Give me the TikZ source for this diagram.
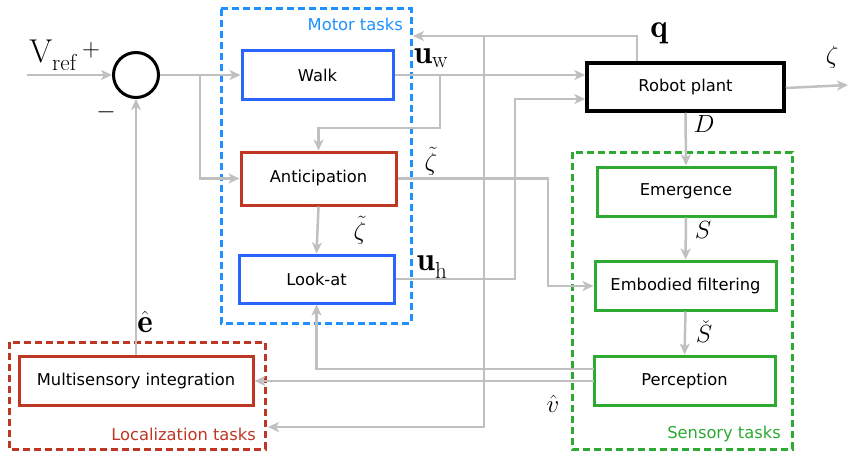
\documentclass[tikz,border=0pt]{standalone}
\usepackage{fontspec}
\usepackage{amsmath}
\usetikzlibrary{arrows.meta,calc}
\newfontfamily\dejavu{DejaVu Sans}
\definecolor{lgray}{RGB}{192,192,192}
\definecolor{bbox}{RGB}{41,100,255}
\definecolor{rbox}{RGB}{190,55,35}
\definecolor{gbox}{RGB}{44,170,50}
\definecolor{mblue}{RGB}{30,144,255}
\tikzset{
  blk/.style={draw, line width=3pt, rectangle, inner sep=0pt, font=\dejavu\fontsize{16.3}{19}\selectfont},
  grp/.style={line width=3pt, dash pattern=on 7pt off 4pt},
  grplab/.style={font=\dejavu\fontsize{16.3}{19}\selectfont, inner sep=0pt},
  arr/.style={draw=lgray, line width=2.5pt, -{Stealth[length=11pt,width=10pt,inset=3pt]}},
  mlab/.style={inner sep=0pt, font=\fontsize{33}{38}\selectfont},
}
\begin{document}
\begin{tikzpicture}[x=1pt,y=-1pt]
\useasboundingbox (0,0) rectangle (848,452);
% group boxes
\draw[grp, mblue] (221,9) rectangle (411,323);
\draw[grp, gbox] (572,152) rectangle (792,449);
\draw[grp, rbox] (9,342) rectangle (265,449);
\node[grplab, text=mblue, anchor=east] (lmotor) at (403,24) {Motor tasks};
\node[grplab, text=rbox, anchor=east] (lloc) at (256,434) {Localization tasks};
\node[grplab, text=gbox, anchor=east] (lsens) at (781,434) {Sensory tasks};
% blocks
\node[draw, circle, line width=3pt, minimum size=45pt, inner sep=0pt] (circ) at (136,75) {};
\node[blk, bbox, text=black, minimum width=151pt, minimum height=49pt] (walk) at (317.5,75) {Walk};
\node[blk, rbox, text=black, minimum width=155pt, minimum height=53pt] (ant) at (318.5,178.5) {Anticipation};
\node[blk, bbox, text=black, minimum width=155pt, minimum height=48pt] (look) at (316.5,279) {Look-at};
\node[blk, black, line width=3.5pt, minimum width=197pt, minimum height=48pt] (robot) at (685.5,87) {Robot plant};
\node[blk, gbox, text=black, minimum width=178pt, minimum height=49pt] (emer) at (686,191.5) {Emergence};
\node[blk, gbox, text=black, minimum width=181pt, minimum height=49pt] (emb) at (685.5,285.5) {Embodied filtering};
\node[blk, gbox, text=black, minimum width=181pt, minimum height=49pt] (perc) at (684.5,380.5) {Perception};
\node[blk, rbox, text=black, minimum width=234pt, minimum height=49pt] (multi) at (136,380.5) {Multisensory integration};
% coordinates
\coordinate (vin) at (27,75);
\coordinate (br1) at (200,75);
\coordinate (br2) at (440,75);
\coordinate (qtop) at (637,36);
\coordinate (qend) at (413,36);
\coordinate (vtop) at (484,36);
\coordinate (vbot) at (484,427);
\coordinate (vend) at (268,427);
\coordinate (uh) at (515,99);
\coordinate (zt) at (548,286);
\coordinate (p1) at (594,369);
\coordinate (p2) at (594,381);
\coordinate (zout) at (848,85);
% connectors
\draw[arr] (vin) -- (circ.west);
\draw[arr] (circ.east) -- (walk.west);
\draw[arr] (br1) |- (ant.west);
\draw[arr] (walk.east) -- (walk.east -| robot.west);
\draw[arr] (br2) -- (440,128) -| (ant.north);
\draw[arr] (robot.north -| qtop) |- (qend);
\draw[arr] (vtop) -- (vbot) -- (vend);
\draw[arr] (look.east) -| (uh) -- (uh -| robot.west);
\draw[arr] (ant.east) -| (zt) -- (zt -| emb.west);
\draw[arr] (ant.south) -- (look.north);
\draw[arr] (robot.east |- 0,88) -- (zout);
\draw[arr] (robot.south) -- (emer.north);
\draw[arr] (emer.south) -- (emb.north);
\draw[arr] (emb.south) -- (perc.north);
\draw[arr] (p1) -| (look.south);
\draw[arr] (p2) -- (p2 -| multi.east);
\draw[arr] (multi.north) -- (circ.south);
% labels
\node[mlab] (lvref) at (53,55) {$\mathrm{V}_{\mathrm{ref}}$};
\node[mlab] (lplus) at (91,50) {$+$};
\node[mlab] (lminus) at (106,112) {$-$};
\node[mlab] (luw) at (431,58) {$\mathbf{u}_{\mathrm{w}}$};
\node[mlab] (lq) at (659,33) {$\mathbf{q}$};
\node[mlab] (lzeta) at (832,57) {$\zeta$};
\node[mlab] (lD) at (704,124) {$D$};
\node[mlab] (lzt1) at (431,161) {$\tilde{\zeta}$};
\node[mlab] (lzt2) at (360,230) {$\tilde{\zeta}$};
\node[mlab] (luh) at (432,267) {$\mathbf{u}_{\mathrm{h}}$};
\node[mlab] (lS) at (703,230) {$S$};
\node[mlab] (lSc) at (704,332) {$\check{S}$};
\node[mlab] (lv) at (553,404) {$\hat{v}$};
\node[mlab] (le) at (145,322) {$\hat{\mathbf{e}}$};
\end{tikzpicture}
\end{document}
